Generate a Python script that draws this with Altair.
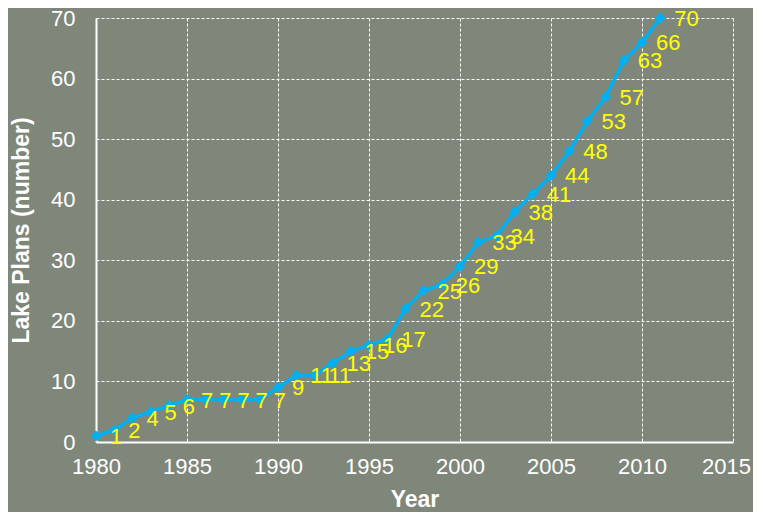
import altair as alt
import pandas as pd

years = list(range(1980, 2012))
plans = [1, 2, 4, 5, 6, 7, 7, 7, 7, 7, 9, 11, 11, 13, 15, 16, 17, 22, 25, 26,
         29, 33, 34, 38, 41, 44, 48, 53, 57, 63, 66, 70]

df = pd.DataFrame({"Year": years, "Plans": plans})

FONT = "Liberation Sans"

x = alt.X("Year:Q", scale=alt.Scale(domain=[1980, 2015], nice=False, zero=False),
          axis=alt.Axis(values=[1980, 1985, 1990, 1995, 2000, 2005, 2010, 2015],
                        format="d", title="Year", titleFontSize=23, titleFontWeight="bold",
                        titleColor="white", titlePadding=11,
                        labelColor="white", labelFontSize=22, labelPadding=14,
                        labelFlush=False, labelOverlap=False,
                        labelOffset={"condition": {"test": "datum.value == 2015", "value": -7},
                                     "value": 0},
                        ticks=False, domainColor="white", domainWidth=2,
                        grid=True, gridColor="white", gridDash=[3, 2], gridWidth=1,
                        labelFont=FONT, titleFont=FONT))
y = alt.Y("Plans:Q", scale=alt.Scale(domain=[0, 70], nice=False),
          axis=alt.Axis(values=[0, 10, 20, 30, 40, 50, 60, 70],
                        title="Lake Plans (number)", titleFontSize=23, titleFontWeight="bold",
                        titleColor="white", titlePadding=17,
                        labelColor="white", labelFontSize=22, labelPadding=21,
                        labelFlush=False, labelOverlap=False,
                        ticks=False, domainColor="white", domainWidth=2,
                        grid=True, gridColor="white", gridDash=[3, 2], gridWidth=1,
                        labelFont=FONT, titleFont=FONT))

base = alt.Chart(df).encode(x=x, y=y)

line = base.mark_line(color="#00b0f0", strokeWidth=3.5)
pts = base.mark_point(shape="diamond", filled=True, color="#00b0f0", size=120, opacity=1)
labels = base.mark_text(align="left", baseline="middle", dx=14, dy=1, color="#ffff00",
                        fontSize=22, font=FONT).encode(text="Plans:Q")

chart = (line + pts + labels).properties(
    width=637, height=424,
    autosize=alt.AutoSizeParams(type="none"),
    padding={"left": 88, "top": 10, "right": 20, "bottom": 70},
    background="#7f877b",
).configure_view(stroke=None)

chart.save("out.html", embed_options={"renderer": "svg", "actions": False})
